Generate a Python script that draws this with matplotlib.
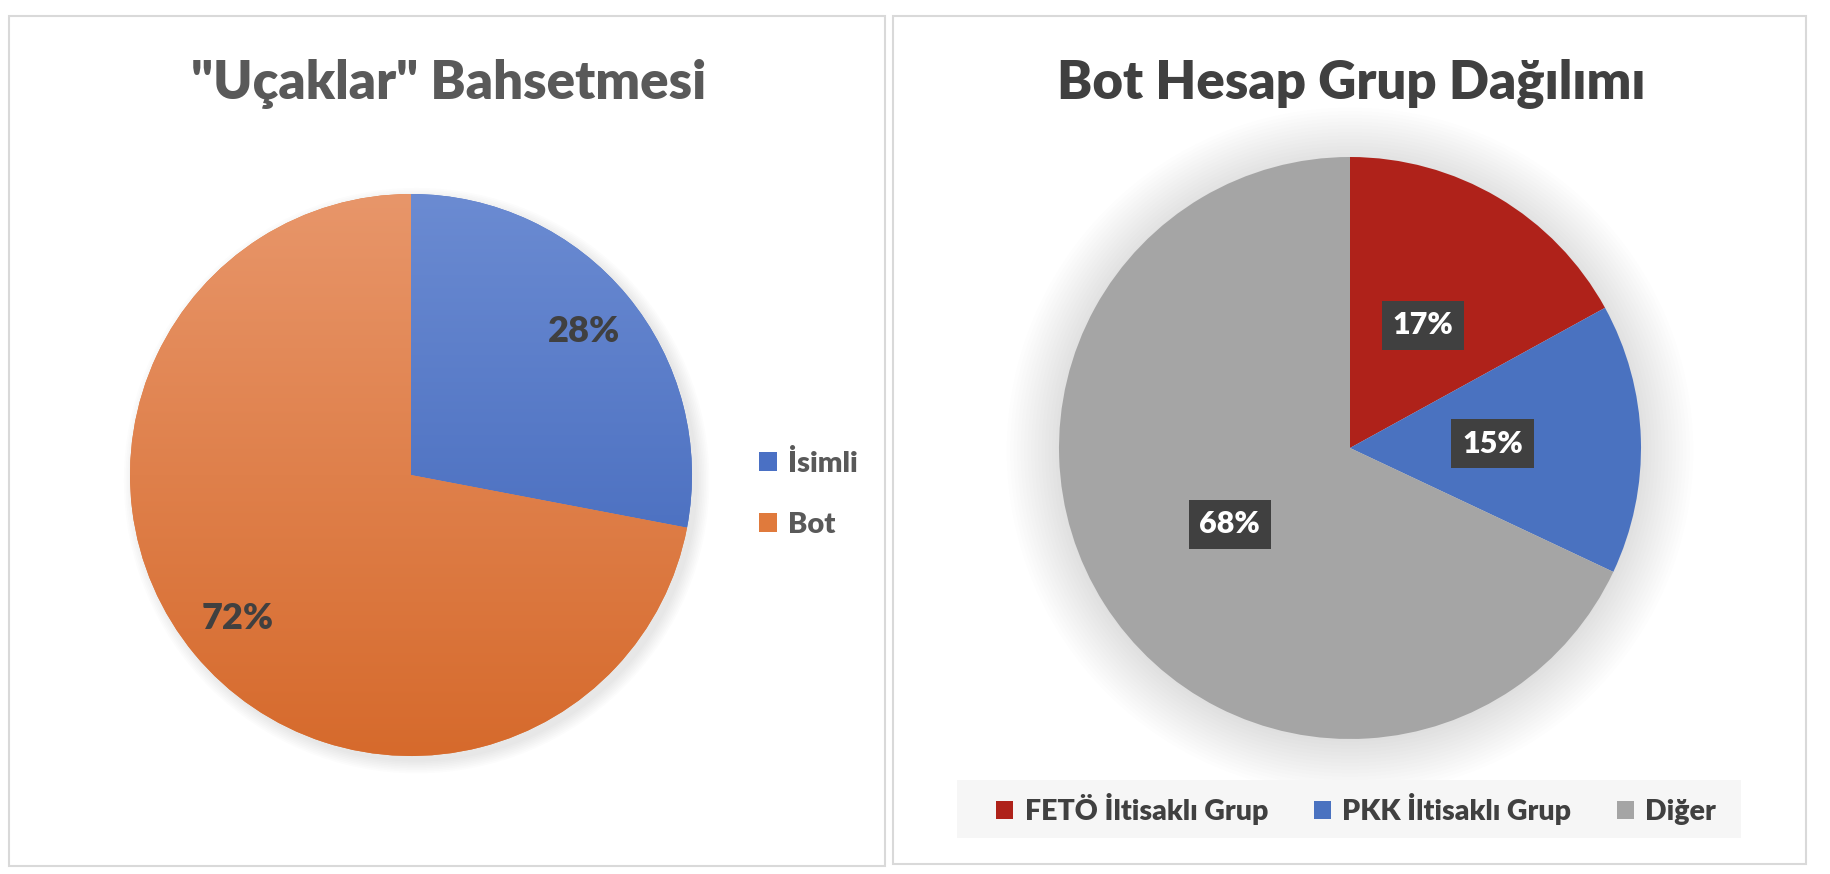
import matplotlib.pyplot as plt
import numpy as np
from matplotlib.patches import Rectangle, Circle

plt.rcParams['font.family'] = ['Lato', 'DejaVu Sans']
plt.rcParams['font.weight'] = 'heavy'

W, H = 1830, 874

# left chart
left_title = '"Uçaklar" Bahsetmesi'
left_labels = ['İsimli', 'Bot']
left_values = [28, 72]
left_colors = ['#4A70C4', '#E07A3C']
left_grad = [('#6B8BD2', '#3A61B7'), ('#E8966A', '#D66A2C')]

# right chart
right_title = 'Bot Hesap Grup Dağılımı'
right_labels = ['FETÖ İltisaklı Grup', 'PKK İltisaklı Grup', 'Diğer']
right_values = [17, 15, 68]
right_colors = ['#AF221A', '#4A72C0', '#A5A5A5']


def px_axes(fig, cx, cy, r):
    # axes square in pixels, centre given in top-left pixel coords
    return fig.add_axes([(cx - r) / W, (H - cy - r) / H, 2 * r / W, 2 * r / H])


def fig_rect(fig, x0, y0, x1, y1, **kw):
    rect = Rectangle((x0 / W, 1 - y1 / H), (x1 - x0) / W, (y1 - y0) / H,
                     transform=fig.transFigure, **kw)
    fig.add_artist(rect)
    return rect


fig = plt.figure(figsize=(W / 100, H / 100), dpi=100)
fig.patch.set_facecolor('white')

# panel borders
fig_rect(fig, 9, 16, 885, 866, fill=False, ec='#D9D9D9', lw=1.5)
fig_rect(fig, 893, 16, 1806, 864, fill=False, ec='#D9D9D9', lw=1.5)

fig.text(449 / W, 1 - 84 / H, left_title, ha='center', va='center',
         fontsize=38, color='#595959', fontweight='heavy')
fig.text(1351 / W, 1 - 84 / H, right_title, ha='center', va='center',
         fontsize=38, color='#404040', fontweight='heavy')

# ---- left pie
ax1 = px_axes(fig, 411, 475, 281)
# faint shadow
for k in range(8):
    c = Circle((0.02, -0.02), 1.0 + k * 0.006, color='black',
               alpha=0.012, lw=0, zorder=0)
    c.set_clip_on(False)
    ax1.add_patch(c)
wedges1, texts1, autos1 = ax1.pie(left_values, colors=left_colors, startangle=90,
                                  counterclock=False, autopct='%1.0f%%',
                                  pctdistance=0.8, radius=1,
                                  textprops=dict(fontsize=26, color='#404040',
                                                 fontweight='heavy'))
for w, (c_top, c_bot) in zip(wedges1, left_grad):
    top = np.array(plt.matplotlib.colors.to_rgb(c_top))
    bot = np.array(plt.matplotlib.colors.to_rgb(c_bot))
    t = np.linspace(0, 1, 256)[:, None]
    grad = (top * (1 - t) + bot * t)[:, None, :]
    im = ax1.imshow(grad, extent=(-1, 1, -1, 1), aspect='auto', zorder=1.5)
    im.set_clip_path(w)
for a in autos1:
    a.set_zorder(3)
ax1.set_xlim(-1, 1)
ax1.set_ylim(-1, 1)

fig.legend(wedges1, left_labels, loc='center left',
           bbox_to_anchor=(733 / W, 1 - 494 / H), frameon=False,
           prop=dict(size=21, weight='heavy'), labelcolor='#595959',
           handlelength=0.6, handleheight=0.6, handletextpad=0.4,
           labelspacing=1.2)

# ---- right pie
ax2 = px_axes(fig, 1350, 448, 291)
for k in range(16):
    c = Circle((0, -0.01), 1.0 + k * 0.012, color='black',
               alpha=0.008, lw=0, zorder=0)
    c.set_clip_on(False)
    ax2.add_patch(c)
wedges2, texts2, autos2 = ax2.pie(right_values, colors=right_colors, startangle=90,
                                  counterclock=False, autopct='%1.0f%%',
                                  pctdistance=0.49, radius=1,
                                  textprops=dict(fontsize=22, color='white',
                                                 fontweight='heavy'))
for a in autos2:
    a.set_bbox(dict(boxstyle='square,pad=0.35', fc='#404040', ec='none'))
ax2.set_xlim(-1, 1)
ax2.set_ylim(-1, 1)

fig_rect(fig, 957, 780, 1741, 838, fc='#F6F6F6', ec='none')
fig.legend(wedges2, right_labels, loc='center', ncol=3,
           bbox_to_anchor=(1356 / W, 1 - 809 / H), frameon=False,
           prop=dict(size=20.5, weight='heavy'), labelcolor='#404040',
           handlelength=0.6, handleheight=0.6, handletextpad=0.4,
           columnspacing=1.6)

fig.savefig('out.png', dpi=100)
